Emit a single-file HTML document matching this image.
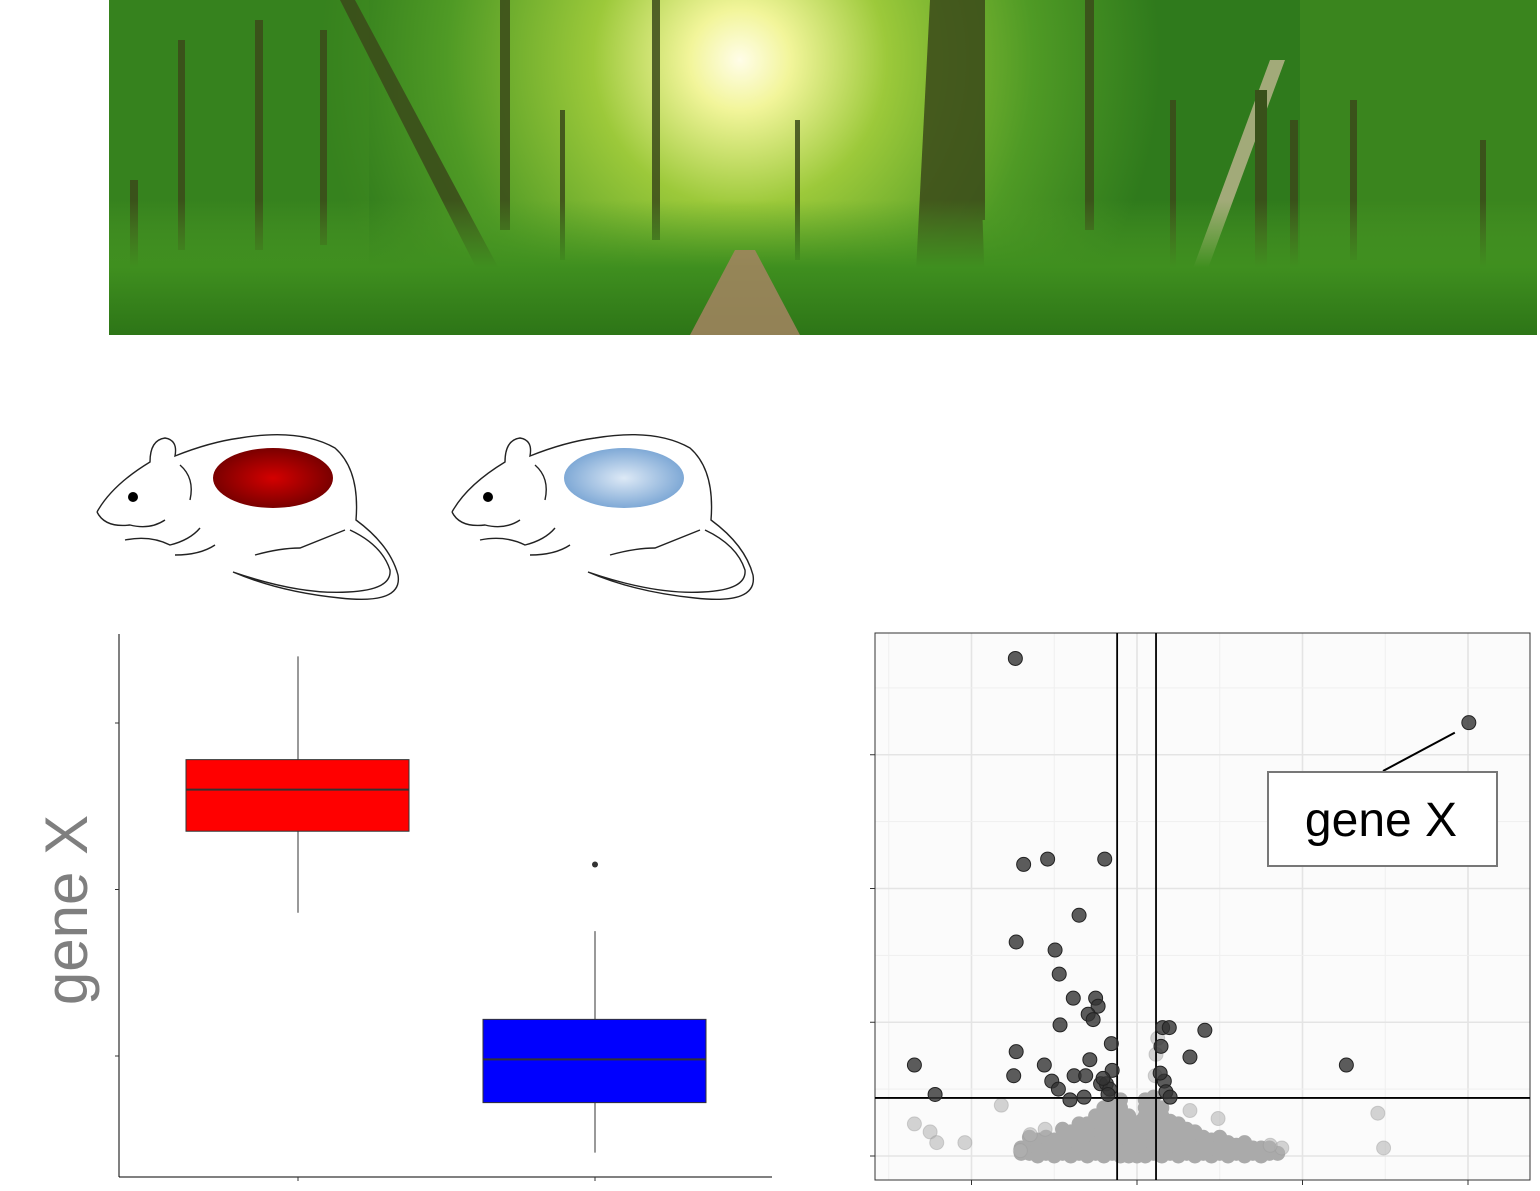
<!DOCTYPE html>
<html><head><meta charset="utf-8"><style>
html,body{margin:0;padding:0;background:#fff;}
body{width:1540px;height:1191px;position:relative;overflow:hidden;font-family:"Liberation Sans",sans-serif;}
svg{position:absolute;left:0;top:0;}
</style></head><body>
<svg width="1540" height="1191" viewBox="0 0 1540 1191">
<defs>
<radialGradient id="sun" cx="740" cy="60" r="420" gradientUnits="userSpaceOnUse">
<stop offset="0" stop-color="#fffde8"/><stop offset="0.12" stop-color="#f2f59a"/><stop offset="0.35" stop-color="#9cc93a"/><stop offset="0.7" stop-color="#4f9a25"/><stop offset="1" stop-color="#2f7a1c"/></radialGradient>
<linearGradient id="ground" x1="0" y1="0" x2="0" y2="1"><stop offset="0" stop-color="#4d9b24" stop-opacity="0"/><stop offset="0.5" stop-color="#3f8f1f"/><stop offset="1" stop-color="#2d7517"/></linearGradient>
<radialGradient id="redspot" cx="0.5" cy="0.5" r="0.5"><stop offset="0" stop-color="#d40000"/><stop offset="1" stop-color="#7a0000"/></radialGradient>
<radialGradient id="bluespot" cx="0.5" cy="0.5" r="0.5"><stop offset="0" stop-color="#dde9f6"/><stop offset="1" stop-color="#7fa9d6"/></radialGradient>
<clipPath id="forestclip"><rect x="109" y="0" width="1428" height="335"/></clipPath>
</defs>

<g clip-path="url(#forestclip)">
<rect x="109" y="0" width="1428" height="335" fill="url(#sun)"/>
<rect x="109" y="0" width="260" height="335" fill="#3d8a20" opacity="0.5"/>
<rect x="1300" y="0" width="237" height="335" fill="#4a9524" opacity="0.4"/>
<g fill="#3b4a1a" opacity="0.85">
<polygon points="340,0 355,0 505,280 485,285"/>
<polygon points="930,0 975,0 985,290 915,290"/>
<polygon points="1270,60 1285,60 1200,290 1185,290" fill="#b7b38a"/>
<rect x="500" y="0" width="10" height="230"/>
<rect x="652" y="0" width="8" height="240"/>
<rect x="1085" y="0" width="9" height="230"/>
<rect x="1255" y="90" width="12" height="200"/>
<rect x="1290" y="120" width="8" height="160"/>
<rect x="975" y="0" width="10" height="220"/>
<rect x="178" y="40" width="7" height="210"/>
<rect x="255" y="20" width="8" height="230"/>
<rect x="320" y="30" width="7" height="215"/>
<rect x="1350" y="100" width="7" height="160"/>
<rect x="1170" y="100" width="6" height="180"/>
<rect x="560" y="110" width="5" height="150"/>
<rect x="795" y="120" width="5" height="140"/>
<rect x="1480" y="140" width="6" height="130"/>
<rect x="130" y="180" width="8" height="90"/>
</g>
<rect x="109" y="200" width="1428" height="135" fill="url(#ground)"/>
<polygon points="735,250 755,250 800,335 690,335" fill="#a58462" opacity="0.85"/>
</g>

<g fill="none" stroke="#222" stroke-width="1.4">
<path d="M97,512 Q112,485 150,462 Q150,440 165,438 Q178,440 175,456 Q210,442 240,438 Q300,428 335,448 Q360,470 356,520 Q390,545 398,575 Q403,605 340,598 Q280,592 233,572 Q300,595 348,592 Q392,590 390,570 Q382,545 350,530"/>
<path d="M97,512 Q105,528 130,525 Q150,530 165,520 M125,540 Q150,535 170,545 Q190,540 200,528 M175,555 Q200,555 215,545 M255,555 Q280,548 300,548 Q320,540 345,530"/>
<circle cx="133" cy="497" r="5" fill="#000" stroke="none"/>
<path d="M180,465 Q195,478 190,500"/>
<ellipse cx="273" cy="478" rx="60" ry="30" fill="url(#redspot)" stroke="none"/>
</g>
<g fill="none" stroke="#222" stroke-width="1.4" transform="translate(355,0)">
<path d="M97,512 Q112,485 150,462 Q150,440 165,438 Q178,440 175,456 Q210,442 240,438 Q300,428 335,448 Q360,470 356,520 Q390,545 398,575 Q403,605 340,598 Q280,592 233,572 Q300,595 348,592 Q392,590 390,570 Q382,545 350,530"/>
<path d="M97,512 Q105,528 130,525 Q150,530 165,520 M125,540 Q150,535 170,545 Q190,540 200,528 M175,555 Q200,555 215,545 M255,555 Q280,548 300,548 Q320,540 345,530"/>
<circle cx="133" cy="497" r="5" fill="#000" stroke="none"/>
<path d="M180,465 Q195,478 190,500"/>
<ellipse cx="269" cy="478" rx="60" ry="30" fill="url(#bluespot)" stroke="none"/>
</g>

<g id="boxplot"></g>
<text x="0" y="0" transform="translate(87,910) rotate(-90)" text-anchor="middle" font-family="Liberation Sans, sans-serif" font-size="60" fill="#7f7f7f">gene X</text>

<g id="volcano"></g>
</svg>
<script>
const NS='http://www.w3.org/2000/svg';
function mk(parent,tag,attrs){const e=document.createElementNS(NS,tag);for(const k in attrs)e.setAttribute(k,attrs[k]);parent.appendChild(e);return e;}

// ---- Boxplot data ----
const groups=['high','low'];
const boxQ1=[2.35,0.72];
const boxMedian=[2.60,0.98];
const boxQ3=[2.78,1.22];
const whiskerLow=[1.86,0.42];
const whiskerHigh=[3.40,1.75];
const outliers=[[],[2.15]];
const boxColors=['#ff0000','#0000ff'];
const yTicksBox=[1,2,3];

const bp=document.getElementById('boxplot');
const bx0=119,bx1=772,by0=634,by1=1177;
function byS(v){return 1056-(v-1)*166.5;}
function bxS(i){return 298+i*297;}
let l=mk(bp,'line',{x1:bx0,y1:by0,x2:bx0,y2:by1,stroke:'#000','stroke-width':1});

l=mk(bp,'line',{x1:bx0,y1:by1,x2:bx1,y2:by1,stroke:'#000','stroke-width':1});

yTicksBox.forEach(t=>{const e=mk(bp,'line',{x1:bx0-4,x2:bx0,y1:byS(t),y2:byS(t),stroke:'#333'});

});
groups.forEach((g,i)=>{
 const cx=bxS(i);
 const t=mk(bp,'line',{x1:cx,x2:cx,y1:by1,y2:by1+4,stroke:'#333'});
 
 
 const w=mk(bp,'line',{x1:cx,x2:cx,y1:byS(whiskerHigh[i]),y2:byS(whiskerLow[i]),stroke:'#333','stroke-width':1});
 
 
 const r=mk(bp,'rect',{x:cx-112,y:byS(boxQ3[i]),width:223,height:byS(boxQ1[i])-byS(boxQ3[i]),fill:boxColors[i],stroke:'#333','stroke-width':1});
 
 
 const m=mk(bp,'line',{x1:cx-112,x2:cx+111,y1:byS(boxMedian[i]),y2:byS(boxMedian[i]),stroke:'#333','stroke-width':2});
 
 
 outliers[i].forEach(o=>{const c=mk(bp,'circle',{cx:cx,cy:byS(o),r:3,fill:'#333'});
 
 });
});

// ---- Volcano data ----
const sigFC=[-1.47,4.01,-1.37,-1.08,-0.39,-0.70,-1.46,-0.99,-0.94,-0.77,-0.50,-0.47,-0.59,-0.53,-0.93,-0.31,0.29,0.31,0.39,0.82,0.64,-1.46,-1.49,-1.12,-0.76,-0.57,-0.62,-1.03,-0.95,-2.69,-2.44,2.53,-0.44,-0.37,-0.33,0.33,0.35,0.40,-0.64,-0.81,-0.30,0.28,-0.41,-0.35];
const sigP=[18.6,16.2,10.9,11.1,11.1,9.0,8.0,7.7,6.8,5.9,5.9,5.6,5.3,5.1,4.9,4.2,4.1,4.8,4.8,4.7,3.7,3.9,3.0,3.4,3.0,3.6,3.0,2.8,2.5,3.4,2.3,3.4,2.7,2.7,2.5,2.8,2.4,2.2,2.2,2.1,3.2,3.1,2.9,2.3];
const nsFC=[-2.69,-2.50,-2.42,-2.08,-1.64,2.91,2.98,0.64,0.98,0.25,0.23,0.22,1.75,1.61,-1.29,-1.41,-1.11];
const nsP=[1.2,0.9,0.5,0.5,1.9,1.6,0.3,1.7,1.4,4.4,3.8,3.0,0.3,0.4,0.8,0.2,1.0];
const cloudFC=[-1.4,-1.3,-1.2,-1.1,-1.0,-0.9,-0.8,-0.7,-0.6,-0.5,-0.4,-0.3,-0.2,-0.1,-0.05,0,0.05,0.1,0.2,0.3,0.4,0.5,0.6,0.7,0.8,0.9,1.0,1.1,1.2,1.3,1.4,1.5,1.6,1.7];
const cloudP=[[0.1,0.3],[0.1,0.4,0.7],[0.0,0.3,0.6],[0.1,0.4,0.7],[0.0,0.3,0.6],[0.1,0.4,0.7,1.0],[0.0,0.3,0.6,0.9],[0.1,0.4,0.7,1.0,1.2],[0.0,0.3,0.6,0.9,1.2],[0.1,0.4,0.7,1.0,1.3,1.5],[0.0,0.3,0.6,0.9,1.2,1.5,1.8],[0.1,0.4,0.7,1.0,1.3,1.6,1.9,2.1],[0.0,0.3,0.6,0.9,1.2,1.5,1.8,2.1],[0.0,0.3,0.6,0.9,1.2,1.5],[0.1,0.5,0.9],[0.0,0.2],[0.1,0.5,0.9,1.3],[0.0,0.3,0.6,0.9,1.2,1.5,1.8,2.1],[0.1,0.4,0.7,1.0,1.3,1.6,1.9,2.2],[0.0,0.3,0.6,0.9,1.2,1.5,1.8],[0.1,0.4,0.7,1.0,1.3],[0.0,0.3,0.6,0.9,1.2],[0.1,0.4,0.7,1.0],[0.0,0.3,0.6,0.9],[0.1,0.4,0.7],[0.0,0.3,0.6],[0.1,0.4,0.7],[0.0,0.3,0.5],[0.1,0.4],[0.0,0.3,0.5],[0.1,0.3],[0.0,0.3],[0.1,0.3],[0.1]];
const xTicksV=[-2,0,2,4];
const yTicksV=[0,5,10,15];
const fcCut=[-0.24,0.23];
const pCut=2.17;
const labelGene={fc:4.01,p:16.2,text:'gene X'};

const vp=document.getElementById('volcano');
const vx0=875,vx1=1530,vy0=633,vy1=1180;
function vxS(v){return 1137+v*82.75;}
function vyS(v){return 1156-v*26.75;}
let bg=mk(vp,'rect',{x:vx0,y:vy0,width:vx1-vx0,height:vy1-vy0,fill:'#fbfbfb'});


for(let i=-3;i<=4;i++){const xv=i+0.0;const g=mk(vp,'line',{x1:vxS(xv-0.0)-(i%2===0?0:0),x2:vxS(xv),y1:vy0,y2:vy1,stroke:i%2===0?'#e4e4e4':'#efefef','stroke-width':i%2===0?1.6:1});

}
for(let v=0;v<=17.5;v+=2.5){const g=mk(vp,'line',{x1:vx0,x2:vx1,y1:vyS(v),y2:vyS(v),stroke:v%5===0?'#e4e4e4':'#efefef','stroke-width':v%5===0?1.6:1});

}
let bd=mk(vp,'rect',{x:vx0,y:vy0,width:vx1-vx0,height:vy1-vy0,fill:'none',stroke:'#333','stroke-width':1});


xTicksV.forEach(t=>{const e=mk(vp,'line',{x1:vxS(t),x2:vxS(t),y1:vy1,y2:vy1+5,stroke:'#333'});

});
yTicksV.forEach(t=>{const e=mk(vp,'line',{x1:vx0-5,x2:vx0,y1:vyS(t),y2:vyS(t),stroke:'#333'});

});
cloudFC.forEach((f,i)=>{cloudP[i].forEach(p=>{const c=mk(vp,'circle',{cx:vxS(f),cy:vyS(p),r:7.5,fill:'#aaaaaa'});

});});
nsFC.forEach((f,i)=>{const c=mk(vp,'circle',{cx:vxS(f),cy:vyS(nsP[i]),r:7,fill:'#b0b0b0','fill-opacity':0.55,stroke:'#999','stroke-opacity':0.4});

});
fcCut.forEach(f=>{const e=mk(vp,'line',{x1:vxS(f),x2:vxS(f),y1:vy0,y2:vy1,stroke:'#000','stroke-width':1.8});

});
let hl=mk(vp,'line',{x1:vx0,x2:vx1,y1:vyS(pCut),y2:vyS(pCut),stroke:'#000','stroke-width':1.8});


sigFC.forEach((f,i)=>{const c=mk(vp,'circle',{cx:vxS(f),cy:vyS(sigP[i]),r:7,fill:'#333','fill-opacity':0.8,stroke:'#222','stroke-width':1});

});
const lx=vxS(labelGene.fc),ly=vyS(labelGene.p);
let cl=mk(vp,'line',{x1:lx-14,y1:ly+10,x2:1383,y2:771,stroke:'#000','stroke-width':2});


let lb=mk(vp,'rect',{x:1268,y:772,width:229,height:94,fill:'#fff',stroke:'#777','stroke-width':2});


let lt=mk(vp,'text',{x:1381,y:836,'text-anchor':'middle','font-size':48,'font-family':'Liberation Sans, sans-serif',fill:'#000'});
lt.textContent=labelGene.text;


</script>
</body></html>
